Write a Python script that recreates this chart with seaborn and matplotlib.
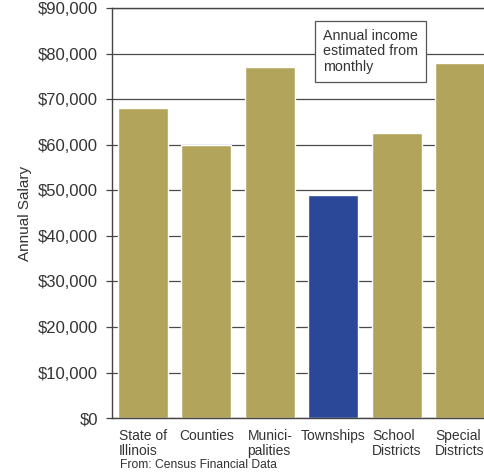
import numpy as np
import pandas as pd
import matplotlib
matplotlib.use('Agg')
import matplotlib.pyplot as plt
import seaborn as sns
from matplotlib.ticker import FuncFormatter

# Average annual salary by type of Illinois government
categories = ['State of\nIllinois', 'Counties', 'Munici-\npalities', 'Townships',
              'School\nDistricts', 'Special\nDistricts']
salaries = [68000, 60000, 77000, 49000, 62500, 78000]
bar_colors = ['#b2a55b', '#b2a55b', '#b2a55b', '#2a4798', '#b2a55b', '#b2a55b']
y_ticks = [0, 10000, 20000, 30000, 40000, 50000, 60000, 70000, 80000, 90000]
note_text = 'Annual income\nestimated from\nmonthly'
source_text = 'From: Census Financial Data'

sns.set_style('white')
plt.rcParams['font.family'] = ['Liberation Sans', 'DejaVu Sans']

df = pd.DataFrame({'Category': categories, 'Salary': salaries})

fig = plt.figure(figsize=(4.85, 4.73), dpi=100)
ax = fig.add_axes([0.231, 0.116, 0.769, 0.867])

sns.barplot(data=df, x='Category', y='Salary', hue='Category', palette=bar_colors,
            width=0.79, saturation=1, legend=False, ax=ax, zorder=2)

ax.set_ylim(0, 90000)
ax.set_xlim(-0.49, 5.395)
ax.set_yticks(y_ticks)
ax.yaxis.set_major_formatter(FuncFormatter(lambda v, p: f'${v:,.0f}'))
ax.yaxis.grid(True, color='#4a4a4a', linewidth=0.9, zorder=0)
ax.set_axisbelow(True)

for s in ['left', 'bottom', 'top']:
    ax.spines[s].set_color('#444444')
    ax.spines[s].set_linewidth(1.0)
ax.spines['right'].set_visible(False)

ax.tick_params(axis='y', which='major', length=4, width=0.9, color='#444444',
               labelsize=12, labelcolor='#333333', pad=6, left=True)
ax.tick_params(axis='x', length=0, pad=8)
ax.set_xticks(range(len(categories)))
ax.set_xticklabels(categories, fontsize=10, color='#333333',
                   multialignment='left', linespacing=1.05)

ax.set_xlabel('')
ax.set_ylabel('Annual Salary', fontsize=11, color='#333333', labelpad=4)

ax.text(2.84, 80500, note_text, ha='left', va='center', fontsize=10.3,
        color='#333333', linespacing=1.15, zorder=5,
        bbox=dict(boxstyle='square,pad=0.55', fc='white', ec='#555555', lw=0.9))

fig.text(0.247, 0.017, source_text, fontsize=8.7, color='#333333', ha='left', va='center')

fig.savefig('out.png', dpi=100)
